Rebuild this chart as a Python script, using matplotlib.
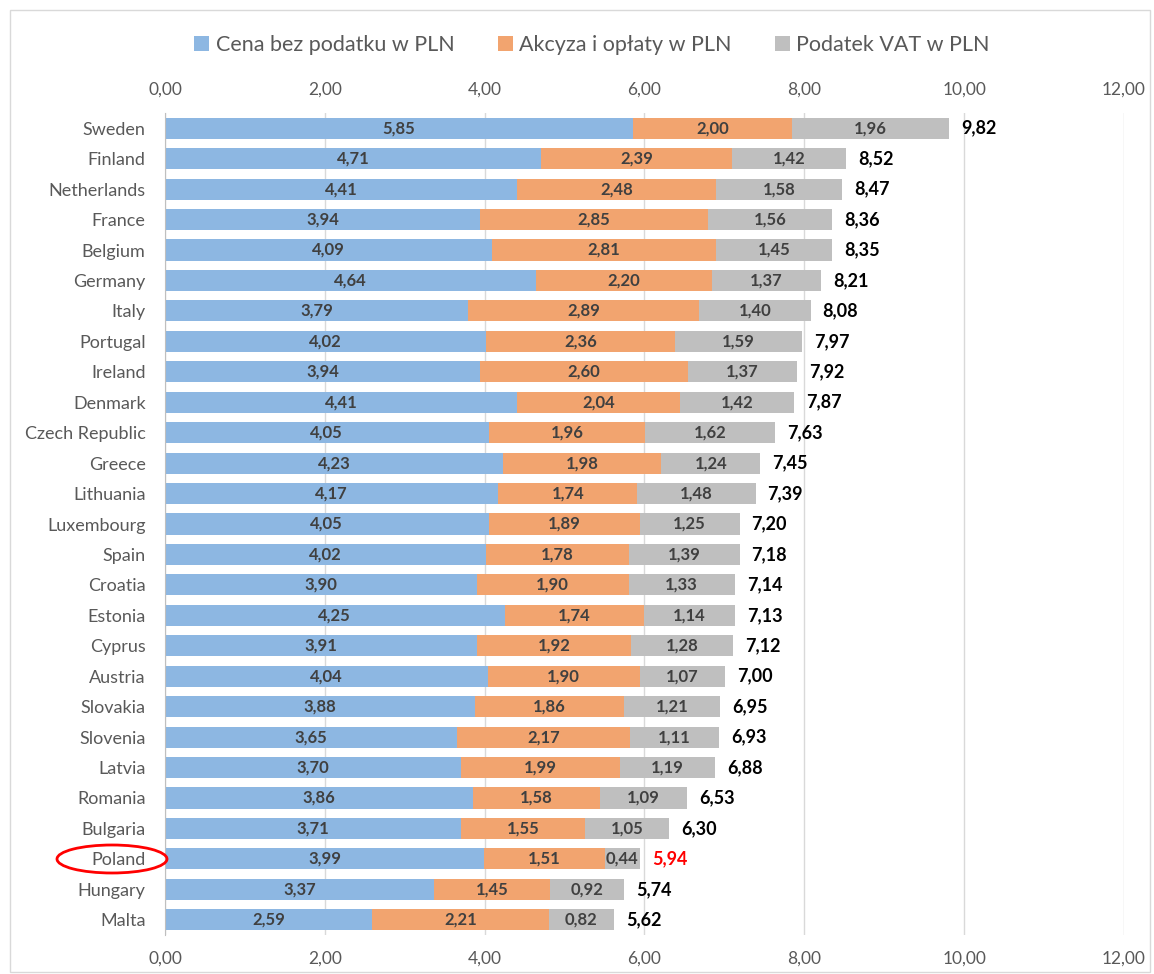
import matplotlib
matplotlib.use("Agg")
import matplotlib.pyplot as plt
from matplotlib.patches import Ellipse, Rectangle
import numpy as np

countries = ["Sweden", "Finland", "Netherlands", "France", "Belgium", "Germany", "Italy",
             "Portugal", "Ireland", "Denmark", "Czech Republic", "Greece", "Lithuania",
             "Luxembourg", "Spain", "Croatia", "Estonia", "Cyprus", "Austria", "Slovakia",
             "Slovenia", "Latvia", "Romania", "Bulgaria", "Poland", "Hungary", "Malta"]
price = [5.85, 4.71, 4.41, 3.94, 4.09, 4.64, 3.79, 4.02, 3.94, 4.41, 4.05, 4.23, 4.17,
         4.05, 4.02, 3.90, 4.25, 3.91, 4.04, 3.88, 3.65, 3.70, 3.86, 3.71, 3.99, 3.37, 2.59]
excise = [2.00, 2.39, 2.48, 2.85, 2.81, 2.20, 2.89, 2.36, 2.60, 2.04, 1.96, 1.98, 1.74,
          1.89, 1.78, 1.90, 1.74, 1.92, 1.90, 1.86, 2.17, 1.99, 1.58, 1.55, 1.51, 1.45, 2.21]
vat = [1.96, 1.42, 1.58, 1.56, 1.45, 1.37, 1.40, 1.59, 1.37, 1.42, 1.62, 1.24, 1.48,
       1.25, 1.39, 1.33, 1.14, 1.28, 1.07, 1.21, 1.11, 1.19, 1.09, 1.05, 0.44, 0.92, 0.82]
totals = [9.82, 8.52, 8.47, 8.36, 8.35, 8.21, 8.08, 7.97, 7.92, 7.87, 7.63, 7.45, 7.39,
          7.20, 7.18, 7.14, 7.13, 7.12, 7.00, 6.95, 6.93, 6.88, 6.53, 6.30, 5.94, 5.74, 5.62]
series_names = ["Cena bez podatku w PLN", "Akcyza i opłaty w PLN", "Podatek VAT w PLN"]
xticks = [0, 2, 4, 6, 8, 10, 12]

colors = ["#8DB7E2", "#F2A46F", "#BFBFBF"]
plt.rcParams['font.family'] = ['Lato', 'DejaVu Sans']

fig = plt.figure(figsize=(11.54, 9.74), dpi=100)
ax = fig.add_axes([165/1154, 1-935/974, (1124-165)/1154, (935-113)/974])

y = np.arange(len(countries))
h = 0.69
fmt = lambda v: f"{v:.2f}".replace(".", ",")
left = np.zeros(len(countries))
for vals, col, name in zip([price, excise, vat], colors, series_names):
    vals = np.array(vals)
    ax.barh(y, vals, left=left, height=h, color=col, label=name, zorder=3)
    for yi, l, v in zip(y, left, vals):
        ax.text(l + v/2, yi, fmt(v), ha="center", va="center", fontsize=12,
                fontweight="bold", color="#404040", zorder=4)
    left = left + vals

for yi, l, t, c in zip(y, left, totals, countries):
    ax.text(l + 0.15, yi, fmt(t), ha="left", va="center", fontsize=13,
            fontweight="bold", color="red" if c == "Poland" else "black", zorder=4)

ax.set_ylim(len(countries) - 0.5, -0.5)
ax.set_xlim(0, 12)
ax.set_yticks(y)
ax.set_yticklabels(countries, fontsize=13, color="#595959")
ax.set_xticks(xticks)
ax.set_xticklabels([fmt(v) for v in xticks], fontsize=12.5, color="#595959")
ax.tick_params(axis="x", which="both", length=0, labeltop=True, labelbottom=True, pad=11)
ax.tick_params(axis="y", length=0, pad=14)
ax.grid(axis="x", color="#D9D9D9", linewidth=1, zorder=0)
for s in ["top", "right", "bottom"]:
    ax.spines[s].set_visible(False)
ax.spines["left"].set_color("#BFBFBF")
ax.spines["left"].set_zorder(5)

fig.legend(loc="center", bbox_to_anchor=(592/1154, 1-45/974), ncol=3, frameon=False,
           fontsize=15.5, handlelength=0.7, handleheight=0.7, handletextpad=0.3,
           columnspacing=2.0, labelcolor="#595959")

# ellipse around Poland
ell = Ellipse((112/1154, 1-859/974), 110/1154, 28/974, transform=fig.transFigure,
              fill=False, edgecolor="red", linewidth=2)
fig.add_artist(ell)

fig.add_artist(Rectangle((10/1154, 0.002), 1140/1154, 1-12/974, transform=fig.transFigure,
                         fill=False, edgecolor="#D9D9D9", linewidth=1))

fig.savefig("out.png", dpi=100)
